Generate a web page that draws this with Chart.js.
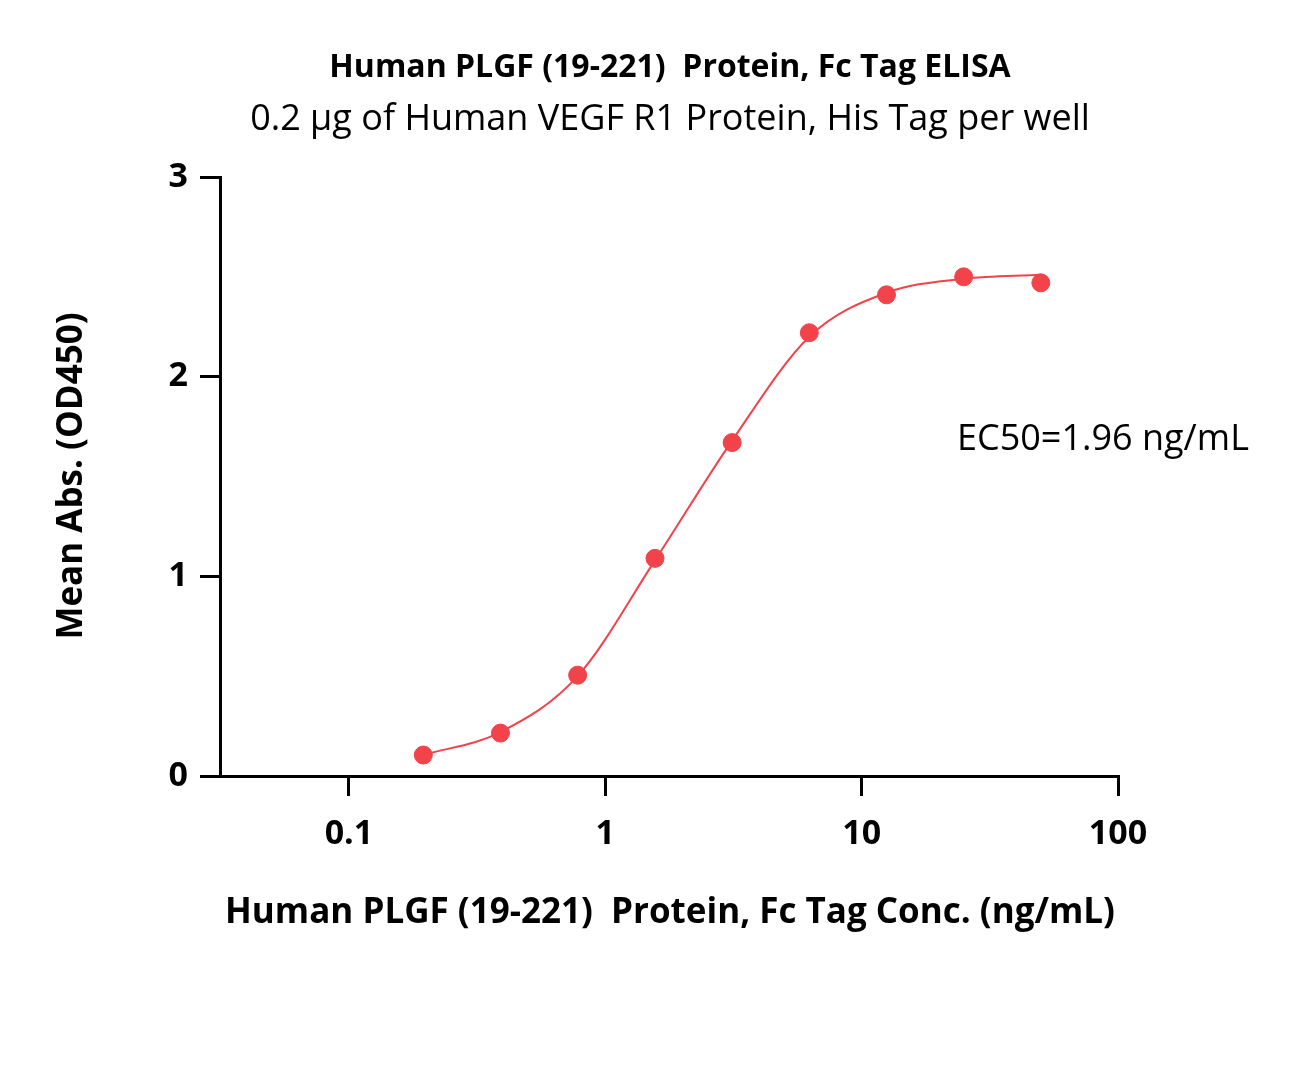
<!DOCTYPE html>
<html><head><meta charset="utf-8">
<script src="https://cdn.jsdelivr.net/npm/chart.js@4"></script>
<style>html,body{margin:0;padding:0;background:#fff}#w{width:1297px;height:1083px}</style>
</head><body><div id="w"><canvas id="c"></canvas></div>
<script>
const conc = [0.195, 0.39, 0.78, 1.5625, 3.125, 6.25, 12.5, 25, 50];
const absMean = [0.105, 0.215, 0.505, 1.09, 1.67, 2.22, 2.41, 2.50, 2.47];
const fitConc = [0.195, 0.39, 0.78, 1.5625, 3.125, 6.25, 12.5, 25, 50];
const fitAbs = [0.105, 0.22, 0.50, 1.08, 1.68, 2.20, 2.42, 2.49, 2.51];
const xTicks = [0.1, 1, 10, 100];
const yTicks = [0, 1, 2, 3];
const F = '"Open Sans", sans-serif';
const red = '#f2424a';
const texts = {
  id: 't',
  afterDraw(ch) {
    const c = ch.ctx; c.save(); c.fillStyle = '#000'; c.textAlign = 'center'; c.textBaseline = 'middle';
    c.font = 'bold 32px ' + F; c.fillText('Human PLGF (19-221)  Protein, Fc Tag ELISA', 670, 68);
    c.font = '36px ' + F; c.fillText('0.2 μg of Human VEGF R1 Protein, His Tag per well', 670, 120);
    c.font = 'bold 35px ' + F; c.fillText('Human PLGF (19-221)  Protein, Fc Tag Conc. (ng/mL)', 670, 913);
    c.font = '36px ' + F; c.textAlign = 'left'; c.fillText('EC50=1.96 ng/mL', 957, 440);
    c.translate(72, 476); c.rotate(-Math.PI / 2); c.textAlign = 'center';
    c.font = 'bold 35px ' + F; c.fillText('Mean Abs. (OD450)', 0, 0);
    c.restore();
  }
};
new Chart(document.getElementById('c'), {
  type: 'scatter',
  data: { datasets: [
    { data: conc.map((x, i) => ({x, y: absMean[i]})), backgroundColor: red, borderColor: red, pointRadius: 9, pointHoverRadius: 9 },
    { type: 'line', data: fitConc.map((x, i) => ({x, y: fitAbs[i]})), borderColor: red, borderWidth: 2, pointRadius: 0, cubicInterpolationMode: 'monotone', fill: false }
  ]},
  plugins: [texts],
  options: {
    responsive: true, maintainAspectRatio: false, animation: false,
    layout: { padding: { top: 177, right: 179, left: 0, bottom: 0 } },
    plugins: { legend: { display: false }, tooltip: { enabled: false } },
    scales: {
      x: { type: 'logarithmic', min: 0.0314, max: 100,
        afterBuildTicks: s => { s.ticks = xTicks.map(v => ({value: v})); },
        afterFit: s => { s.height = 1083 - 776; },
        ticks: { callback: v => String(v), color: '#000', font: { family: F, size: 34, weight: 'bold' }, padding: 18, maxRotation: 0 },
        grid: { drawOnChartArea: false, tickLength: 20, lineWidth: 3, color: '#000' },
        border: { width: 3, color: '#000' } },
      y: { min: 0, max: 3,
        afterBuildTicks: s => { s.ticks = yTicks.map(v => ({value: v})); },
        afterFit: s => { s.width = 220; },
        ticks: { color: '#000', font: { family: F, size: 34, weight: 'bold' }, padding: 12 },
        grid: { drawOnChartArea: false, tickLength: 20, lineWidth: 3, color: '#000' },
        border: { width: 3, color: '#000' } }
    }
  }
});
</script></body></html>
